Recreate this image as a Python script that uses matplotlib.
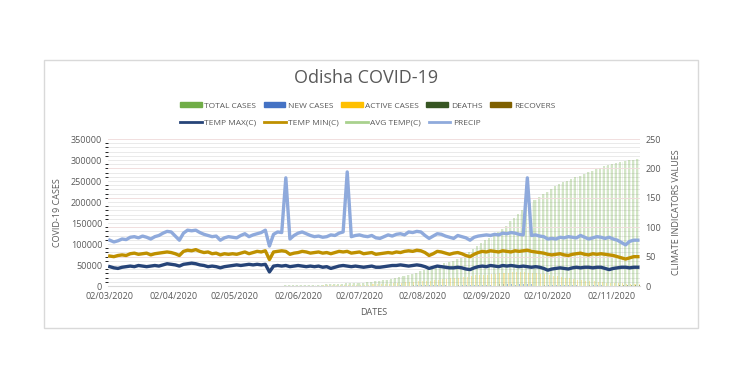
import numpy as np
import pandas as pd
import matplotlib
matplotlib.use("Agg")
import matplotlib.pyplot as plt
import matplotlib.dates as mdates
from matplotlib.patches import Patch, Rectangle
from matplotlib.lines import Line2D
from matplotlib.ticker import MultipleLocator, FixedLocator

plt.rcParams['font.family'] = ['Open Sans', 'DejaVu Sans']

# one value every second day, starting 02/03/2020
dates = pd.date_range('2020-03-02', periods=130, freq='2D')

total_cases = [
    0, 0, 0, 0, 0, 0, 0, 0, 0, 1,
    2, 2, 2, 2, 3, 4, 5, 20, 42, 48,
    54, 60, 61, 68, 79, 94, 103, 111, 125, 142,
    150, 162, 200, 219, 294, 377, 538, 672, 828, 900,
    1052, 1189, 1336, 1517, 1660, 1948, 2104, 2388, 2608, 2856,
    3140, 3386, 3723, 4163, 4512, 5160, 5470, 5752, 6350, 6859,
    7065, 7545, 8106, 9070, 10097, 11201, 12526, 13737, 15392, 17437,
    19835, 22693, 24013, 26892, 28107, 31877, 34913, 37681, 40250, 44193,
    47455, 50672, 54630, 57126, 60050, 64000, 68000, 72718, 80000, 87602,
    94668, 103536, 109780, 113411, 119000, 128000, 135130, 143117, 155000, 162920,
    171341, 180000, 188000, 196888, 205000, 212609, 218000, 225000, 231000, 237000,
    242000, 247000, 251000, 256000, 260000, 263000, 267000, 271000, 275000, 279000,
    282000, 285000, 289000, 291000, 294000, 296000, 298000, 299500, 301000, 303000,
]

new_cases = [
    0, 0, 0, 0, 0, 0, 0, 0, 0, 1,
    0, 0, 0, 0, 1, 1, 1, 8, 3, 4,
    5, 3, 1, 4, 5, 8, 4, 5, 7, 10,
    8, 6, 13, 10, 37, 44, 80, 60, 76, 45,
    75, 70, 80, 90, 70, 150, 110, 140, 110, 130,
    140, 120, 170, 200, 170, 320, 150, 140, 300, 250,
    230, 260, 300, 500, 550, 600, 650, 600, 800, 1000,
    1300, 1400, 1300, 1400, 1500, 1600, 1500, 1400, 1500, 1900,
    1700, 1900, 2000, 2500, 2600, 2900, 2700, 2700, 3000, 3200,
    3400, 3600, 3200, 3000, 3800, 4200, 3900, 4200, 4300, 3600,
    4200, 4300, 4200, 4100, 3900, 3500, 3600, 3400, 3100, 2900,
    2800, 2600, 2400, 2100, 2000, 1900, 1800, 1700, 1600, 1400,
    1500, 1300, 1200, 1100, 1000, 900, 850, 800, 750, 700,
]

active_cases = [
    0, 0, 0, 0, 0, 0, 0, 0, 0, 1,
    2, 2, 2, 2, 3, 4, 5, 18, 38, 42,
    40, 40, 38, 40, 45, 55, 55, 60, 70, 80,
    90, 100, 130, 150, 200, 260, 380, 480, 560, 600,
    640, 700, 770, 880, 900, 1000, 960, 1100, 1200, 1300,
    1200, 1300, 1400, 1500, 1600, 1800, 1900, 1900, 2200, 2300,
    2300, 2600, 3000, 3600, 4000, 4500, 5000, 5300, 5800, 6700,
    7700, 8500, 9500, 10000, 10500, 11000, 11800, 12500, 13000, 14500,
    15400, 16000, 17000, 18500, 19500, 20000, 21000, 22500, 24000, 25500,
    26000, 26500, 27500, 28500, 29500, 30500, 31500, 32000, 32500, 33000,
    33500, 33000, 32000, 31500, 30500, 29500, 28000, 26500, 25000, 24000,
    22000, 20000, 18500, 17000, 15500, 14000, 13000, 12000, 11000, 10000,
    9000, 8500, 8000, 7500, 7000, 6500, 6000, 5500, 5000, 4700,
]

deaths = [
    0, 0, 0, 0, 0, 0, 0, 0, 0, 0,
    0, 0, 0, 0, 0, 1, 1, 1, 1, 1,
    1, 1, 1, 1, 1, 1, 1, 1, 1, 1,
    1, 1, 2, 2, 2, 3, 3, 3, 4, 5,
    6, 7, 7, 7, 8, 9, 9, 9, 9, 10,
    10, 10, 11, 11, 13, 15, 17, 18, 22, 25,
    28, 32, 38, 42, 50, 56, 62, 68, 75, 84,
    100, 110, 130, 150, 170, 185, 200, 220, 250, 280,
    300, 320, 340, 360, 380, 400, 420, 440, 470, 500,
    520, 540, 560, 580, 600, 620, 640, 660, 690, 720,
    750, 780, 810, 840, 870, 900, 940, 970, 1000, 1030,
    1050, 1080, 1110, 1140, 1170, 1200, 1220, 1250, 1280, 1300,
    1320, 1340, 1360, 1380, 1400, 1420, 1440, 1460, 1480, 1500,
]

temp_max = [
    33, 31, 30, 32, 33, 34, 33, 35, 34, 33,
    34, 35, 34, 36, 38, 37, 36, 34, 37, 38,
    39, 38, 36, 35, 33, 34, 33, 31, 33, 34,
    35, 36, 35, 36, 37, 36, 37, 36, 37, 24,
    34, 35, 34, 35, 33, 34, 35, 34, 33, 34,
    33, 34, 32, 33, 30, 32, 34, 35, 34, 33,
    34, 33, 32, 33, 34, 32, 32, 33, 34, 35,
    35, 36, 35, 34, 35, 36, 35, 33, 30, 32,
    34, 33, 32, 31, 31, 32, 31, 29, 28, 31,
    33, 34, 33, 35, 34, 33, 35, 34, 35, 34,
    33, 34, 33, 32, 33, 32, 30, 27, 29, 30,
    31, 30, 29, 31, 32, 31, 32, 32, 31, 32,
    32, 30, 28, 30, 31, 32, 32, 31, 32, 32,
]

temp_min = [
    51, 50, 52, 53, 52, 55, 56, 54, 55, 56,
    53, 55, 56, 57, 58, 57, 55, 52, 59, 61,
    60, 62, 59, 57, 58, 55, 56, 53, 55, 54,
    55, 54, 56, 58, 55, 57, 59, 58, 60, 45,
    58, 59, 60, 59, 54, 56, 57, 59, 58, 56,
    57, 58, 56, 57, 55, 57, 59, 58, 59, 56,
    57, 58, 55, 56, 57, 54, 55, 56, 57, 56,
    58, 57, 59, 60, 59, 61, 60, 57, 52, 55,
    59, 58, 56, 54, 56, 57, 55, 52, 50, 54,
    57, 59, 58, 60, 59, 58, 60, 59, 58, 60,
    59, 60, 61, 59, 58, 57, 56, 54, 53, 54,
    55, 53, 52, 54, 55, 56, 54, 53, 55, 54,
    55, 54, 53, 52, 50, 48, 46, 48, 50, 50,
]

precip = [
    78, 75, 77, 80, 79, 83, 84, 82, 85, 83,
    80, 84, 86, 90, 93, 92, 85, 78, 90, 95,
    94, 95, 91, 88, 86, 84, 85, 78, 82, 84,
    83, 82, 86, 89, 84, 87, 89, 91, 95, 68,
    88, 92, 91, 184, 80, 86, 90, 92, 89, 86,
    84, 85, 83, 84, 87, 86, 90, 92, 194, 84,
    86, 87, 85, 84, 86, 82, 81, 84, 87, 85,
    88, 89, 87, 92, 91, 93, 92, 86, 81, 85,
    89, 88, 85, 83, 81, 86, 84, 82, 78, 83,
    85, 86, 87, 86, 88, 87, 90, 89, 91, 90,
    88, 87, 184, 86, 87, 85, 84, 80, 81, 80,
    83, 82, 84, 83, 82, 86, 83, 80, 82, 84,
    83, 81, 83, 80, 78, 74, 70, 76, 78, 78,
]

c_total = '#70AD47'
c_new = '#4472C4'
c_active = '#FFC000'
c_deaths = '#375623'
c_recov = '#7F6000'
c_tmax = '#264478'
c_tmin = '#BF9000'
c_avg = '#A9D18E'
c_precip = '#8FAADC'
txt = '#595959'

fig = plt.figure(figsize=(7.33, 3.84), dpi=100)
fig.patches.append(Rectangle((0.060, 0.146), 0.892, 0.698, transform=fig.transFigure,
                             fill=False, edgecolor='#d9d9d9', linewidth=1.0))

ax = fig.add_axes([0.147, 0.255, 0.726, 0.383])
ax2 = ax.twinx()

x = mdates.date2num(dates)
ax.bar(x - 0.5, total_cases, width=1.0, color=c_total, alpha=0.30, linewidth=0, zorder=2)
ax.bar(x + 0.5, total_cases, width=0.5, color=c_total, alpha=0.10, linewidth=0, zorder=2)
ax.bar(x + 0.2, new_cases, width=0.4, color=c_new, alpha=0.5, linewidth=0, zorder=2)
ax.bar(x + 0.6, active_cases, width=0.5, color=c_active, alpha=0.3, linewidth=0, zorder=2)
ax.bar(x + 0.9, deaths, width=0.4, color=c_deaths, alpha=0.5, linewidth=0, zorder=2)

ax2.plot(x, temp_max, color=c_tmax, lw=2.4, solid_joinstyle='round')
ax2.plot(x, temp_min, color=c_tmin, lw=2.4, solid_joinstyle='round')
ax2.plot(x, precip, color=c_precip, lw=2.4, solid_joinstyle='round')

ax.set_ylim(0, 350000)
ax2.set_ylim(0, 250)
ax.set_xlim(mdates.date2num(pd.Timestamp('2020-03-01')), mdates.date2num(pd.Timestamp('2020-11-16')))

ax.yaxis.set_major_locator(MultipleLocator(50000))
ax.yaxis.set_minor_locator(MultipleLocator(10000))
ax2.yaxis.set_major_locator(MultipleLocator(50))
ax.grid(which='both', axis='y', color='#e6e6e6', lw=0.6, zorder=0)
ax.set_axisbelow(True)
for v in ax2.get_yticks():
    ax2.axhline(v, color='#f3dede', lw=0.6, zorder=0)

month_ticks = pd.date_range('2020-03-01', periods=9, freq='MS') + pd.Timedelta(days=1)
ax.xaxis.set_major_locator(FixedLocator(mdates.date2num(month_ticks)))
ax.xaxis.set_major_formatter(mdates.DateFormatter('%d/%m/%Y'))

for a in (ax, ax2):
    for s in a.spines.values():
        s.set_visible(False)
    a.tick_params(length=0, labelsize=6.5, labelcolor=txt, pad=4)
ax.spines['bottom'].set_visible(True)
ax.spines['bottom'].set_color('#d9d9d9')
ax.spines['bottom'].set_linewidth(0.8)

ax.set_ylabel('COVID-19 CASES', fontsize=6.5, color=txt, labelpad=6)
ax2.set_ylabel('CLIMATE INDICATORS VALUES', fontsize=6.5, color=txt, labelpad=8)
ax.set_xlabel('DATES', fontsize=6.5, color=txt, labelpad=5)

fig.text(0.5, 0.797, 'Odisha COVID-19', ha='center', va='center', fontsize=13, color=txt)

bar_handles = [Patch(color=c, label=l) for c, l in [
    (c_total, 'TOTAL CASES'), (c_new, 'NEW CASES'), (c_active, 'ACTIVE CASES'),
    (c_deaths, 'DEATHS'), (c_recov, 'RECOVERS')]]
line_handles = [Line2D([], [], color=c, lw=2.0, label=l) for c, l in [
    (c_tmax, 'TEMP MAX(C)'), (c_tmin, 'TEMP MIN(C)'), (c_avg, 'AVG TEMP(C)'),
    (c_precip, 'PRECIP')]]

leg_kw = dict(frameon=False, fontsize=6, labelcolor=txt, handlelength=2.6,
              handletextpad=0.3, columnspacing=0.9, borderpad=0)
leg1 = fig.legend(handles=bar_handles, ncol=5, loc='center left',
                  bbox_to_anchor=(0.240, 0.724), handleheight=0.5, **leg_kw)
leg2 = fig.legend(handles=line_handles, ncol=4, loc='center left',
                  bbox_to_anchor=(0.240, 0.680), **leg_kw)

fig.savefig('out.png', dpi=100)
